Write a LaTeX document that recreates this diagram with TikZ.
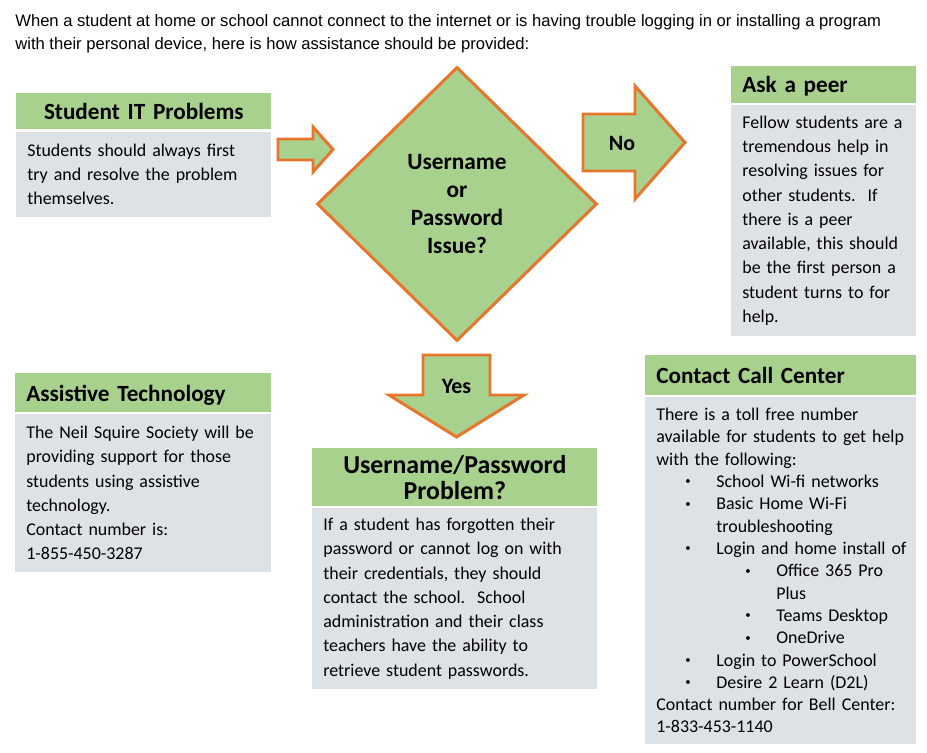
\documentclass[tikz,border=0pt]{standalone}
\usepackage{fontspec}
\setmainfont{Carlito}
\newfontfamily\introfont{Liberation Sans}
\usetikzlibrary{positioning,shapes.geometric}
\definecolor{hdrgreen}{RGB}{169,209,142}
\definecolor{bodygray}{RGB}{221,226,231}
\definecolor{arrorange}{RGB}{230,118,44}
\newdimen\pxu \pxu=0.02cm
\hyphenpenalty=10000
\newcommand{\bul}[2]{\par\noindent\hspace*{#1\pxu}\makebox[31\pxu][l]{\raisebox{0.3ex}{\scalebox{0.6}{\textbullet}}}\mbox{#2}}
\newcommand{\cont}[2]{\par\noindent\hspace*{#1\pxu}\mbox{#2}}
\tikzset{
  hdr/.style={fill=hdrgreen, inner xsep=11\pxu, inner ysep=0pt, anchor=north west, text depth=0pt, font=\fontsize{13.2}{15}\selectfont\bfseries},
  bodybox/.style={fill=bodygray, inner xsep=11\pxu, inner ysep=0pt, align=left, font=\fontsize{10.2}{13.8}\selectfont},
  blockarr/.style={draw=arrorange, fill=hdrgreen, line width=1.7pt, line join=miter},
  decide/.style={diamond, draw=arrorange, fill=hdrgreen, line width=1.7pt, align=center, inner sep=0pt, font=\fontsize{13.3}{15.9}\selectfont\bfseries},
  arrlab/.style={font=\fontsize{12.5}{15}\selectfont\bfseries},
}
\begin{document}
\begin{tikzpicture}[x=0.02cm, y=-0.02cm]
  \useasboundingbox (0,0) rectangle (927,753);
  \node[anchor=north west, inner sep=0pt, align=left, font=\introfont\fontsize{9.45}{12.75}\selectfont] (intro) at (15,14.5)
    {When a student at home or school cannot connect to the internet or is having trouble logging in or installing a program\\with their personal device, here is how assistance should be provided:};
  % student IT problems
  \node[hdr, text width=233\pxu, minimum height=36\pxu, align=center] (sithdr) at (16,93) {Student IT Problems};
  \node[bodybox, below=1pt of sithdr.south west, anchor=north west, text width=233\pxu, minimum height=85\pxu] (sitbody)
    {Students should always first\\try and resolve the problem\\themselves.};
  \draw[blockarr] (278,139) -- (313,139) -- (313,127) -- (333,149.5) -- (313,172) -- (313,160) -- (278,160) -- cycle;
  % decision
  \node[decide, minimum width=280\pxu, minimum height=274\pxu] (issue) at (457,204) {Username\\or\\Password\\Issue?};
  \draw[blockarr] (583,114) -- (635,114) -- (635,86) -- (685,142.5) -- (635,199) -- (635,171) -- (583,171) -- cycle;
  \node[arrlab] (nolab) at (622,143) {No};
  \draw[blockarr] (423,355) -- (490,355) -- (490,395) -- (524,395) -- (456.5,437) -- (389,395) -- (423,395) -- cycle;
  \node[arrlab] (yeslab) at (456.5,386) {Yes};
  % ask a peer
  \node[hdr, text width=163\pxu, minimum height=37\pxu, align=left] (peerhdr) at (731,66) {Ask a peer};
  \node[bodybox, below=0.6pt of peerhdr.south west, anchor=north west, text width=163\pxu, minimum height=231\pxu] (peerbody)
    {Fellow students are a\\tremendous help in\\resolving issues for\\other students.\ \ If\\there is a peer\\available, this should\\be the first person a\\student turns to for\\help.};
  % assistive technology
  \node[hdr, text width=234\pxu, minimum height=39\pxu, align=left] (athdr) at (15,373) {Assistive Technology};
  \node[bodybox, below=0.6pt of athdr.south west, anchor=north west, text width=234\pxu, minimum height=158\pxu] (atbody)
    {The Neil Squire Society will be\\providing support for those\\students using assistive\\technology.\\Contact number is:\\1-855-450-3287};
  % username / password problem
  \node[hdr, text width=263\pxu, minimum height=58\pxu, align=center, text depth={}, font=\fontsize{14.7}{14.7}\selectfont\bfseries] (uphdr) at (312,448) {Username/Password\\Problem?};
  \node[bodybox, below=0.6pt of uphdr.south west, anchor=north west, text width=263\pxu, minimum height=181\pxu] (upbody)
    {If a student has forgotten their\\password or cannot log on with\\their credentials, they should\\contact the school.\ \ School\\administration and their class\\teachers have the ability to\\retrieve student passwords.};
  % contact call center
  \node[hdr, text width=249\pxu, minimum height=40\pxu, align=left] (cchdr) at (645,355) {Contact Call Center};
  \node[bodybox, below=0.6pt of cchdr.south west, anchor=north west, text width=249\pxu, minimum height=347\pxu, font=\fontsize{10.2}{12.7}\selectfont] (ccbody)
    {There is a toll free number\\available for students to get help\\with the following:
     \bul{29}{School Wi-fi networks}
     \bul{29}{Basic Home Wi-Fi}
     \cont{60}{troubleshooting}
     \bul{29}{Login and home install of}
     \bul{89}{Office 365 Pro}
     \cont{120}{Plus}
     \bul{89}{Teams Desktop}
     \bul{89}{OneDrive}
     \bul{29}{Login to PowerSchool}
     \bul{29}{Desire 2 Learn (D2L)}
     \cont{0}{Contact number for Bell Center:}
     \cont{0}{1-833-453-1140}};
\end{tikzpicture}
\end{document}
